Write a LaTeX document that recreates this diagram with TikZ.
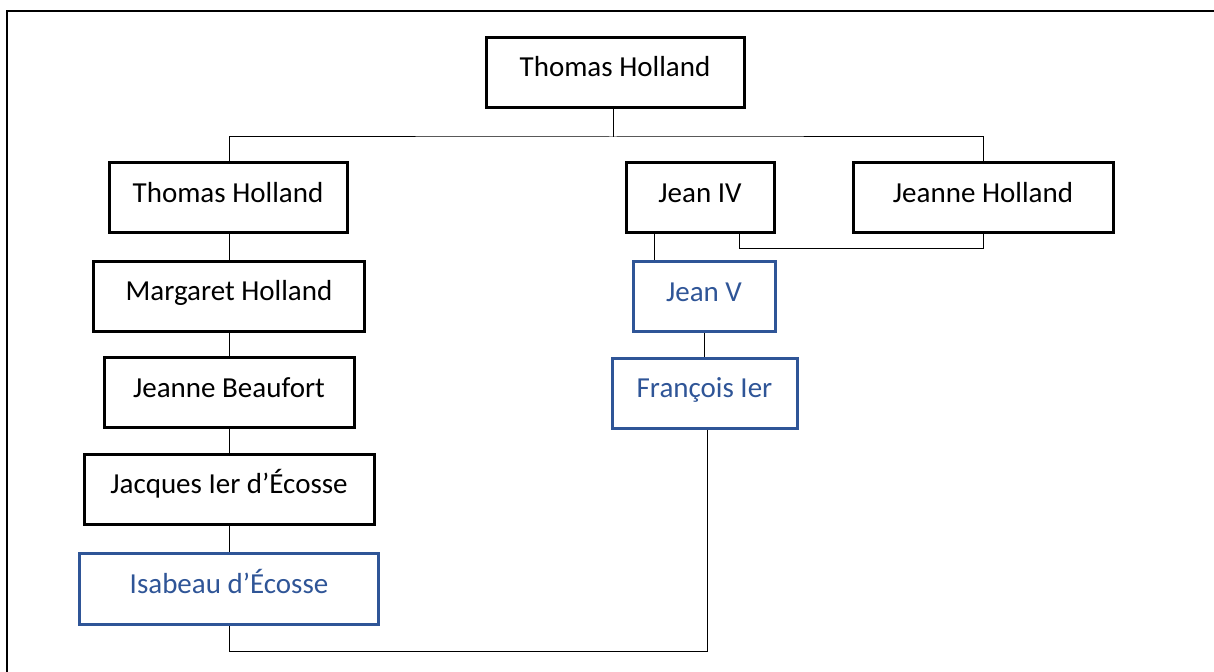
\documentclass[tikz,border=0pt]{standalone}
\usepackage{fontspec}
\setmainfont{Carlito}
\usepackage{tikz}
\usetikzlibrary{positioning, calc}
\definecolor{heirblue}{HTML}{2F5597}

\begin{document}
\begin{tikzpicture}[x=0.5pt, y=-0.5pt, line width=0.5pt]

  \tikzstyle{person}=[draw, line width=1.5pt, minimum height=35pt,
    text height=9.5pt, text depth=5.2pt, inner sep=0pt,
    font=\fontsize{14.5}{17}\selectfont]
  \tikzstyle{heir}=[person, draw=heirblue, text=heirblue]%

  \useasboundingbox (0,0) rectangle (1214,672);

  % Frame
  \draw[line width=1.2pt] (7,672) -- (7,11) -- (1214,11);

  %% Boxes
  % top
  \node[person, minimum width=129pt] (top) at (615,72.5) {Thomas Holland};
  % left column
  \node[person, minimum width=119pt] (tomas) at (228,198) {Thomas Holland};
  \node[person, minimum width=135.5pt] (marg) at (229,296.5) {Margaret Holland};
  \node[person, minimum width=125pt] (beauf) at (229,393) {Jeanne Beaufort};
  \node[person, minimum width=145pt] (jacq) at (229,489.5) {Jacques Ier d’Écosse};
  \node[heir, minimum width=149.5pt] (isab) at (229,589) {Isabeau d’Écosse};
  % right side
  \node[person, minimum width=74pt] (jean4) at (700,198) {Jean IV};
  \node[person, minimum width=130pt] (jeanne) at (983,198) {Jeanne Holland};
  \node[heir, minimum width=71pt] (jean5) at (704,297) {Jean V};
  \node[heir, minimum width=92.5pt] (franc) at (704.5,393.5) {François Ier};

  %% Lines
  \coordinate (split) at (613,137);
  \draw (top.south -| split) -- (split);
  \draw (tomas.north -| 229,0) |- (split) -| (jeanne.north);

  % left column
  \draw (tomas.south -| 229,0) -- (marg.north -| 229,0);
  \draw (marg.south -| 229,0) -- (beauf.north -| 229,0);
  \draw (beauf.south -| 229,0) -- (jacq.north -| 229,0);
  \draw (jacq.south -| 229,0) -- (isab.north -| 229,0);

  % Jean IV and Jeanne
  \coordinate (jj) at ($(jean4.south)+(39,0)$);
  \draw (jj) -- ++(0,14) -| (jeanne.south);
  \coordinate (jv) at ($(jean4.south)+(-46,0)$);
  \draw (jv) -- (jv |- jean5.north);
  \draw (jean5.south) -- (jean5.south |- franc.north);

  % bottom link
  \coordinate (low) at (707,651);
  \draw (franc.south -| low) -- (low) -| (isab.south);
\end{tikzpicture}
\end{document}
